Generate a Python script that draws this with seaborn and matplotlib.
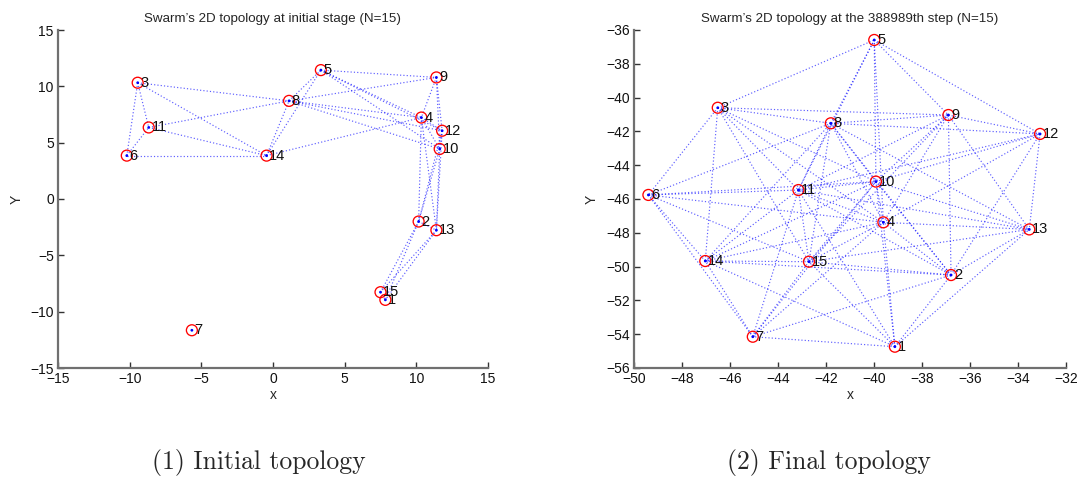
import matplotlib
matplotlib.use("Agg")
import matplotlib.pyplot as plt
import seaborn as sns
import pandas as pd

# Node ids (1..15) and coordinates of the swarm at the two stages
node_ids = list(range(1, 16))

init_x = [7.84, 10.16, -9.44, 10.35, 3.34, -10.2, -5.66, 1.12, 11.4, 11.63, -8.67, 11.8, 11.4, -0.45, 7.5]
init_y = [-8.95, -2.0, 10.32, 7.23, 11.44, 3.85, -11.65, 8.71, 10.79, 4.44, 6.35, 6.06, -2.77, 3.85, -8.27]

final_x = [-39.13, -36.79, -46.51, -39.61, -39.99, -49.4, -45.05, -41.8, -36.9, -39.92, -43.15, -33.08, -33.53, -47.03, -42.71]
final_y = [-54.74, -50.5, -40.6, -47.38, -36.59, -45.76, -54.15, -41.52, -41.03, -44.97, -45.47, -42.15, -47.8, -49.67, -49.71]

# Communication links (pairs of node ids)
init_edges = [
    (3, 11), (3, 6), (3, 8), (3, 14), (6, 11), (6, 14), (11, 14), (11, 8),
    (14, 8), (14, 5), (14, 4), (8, 5), (8, 9), (8, 4), (8, 12), (8, 10),
    (5, 9), (5, 4), (5, 12), (5, 10), (9, 4), (9, 12), (9, 10), (4, 12),
    (4, 10), (12, 10), (4, 2), (4, 13), (12, 2), (12, 13), (10, 2), (10, 13),
    (2, 13), (2, 15), (2, 1), (13, 15), (13, 1), (15, 1),
]

final_edges = [
    (1, 2), (1, 4), (1, 7), (1, 10), (1, 11), (1, 13), (1, 14), (1, 15),
    (2, 4), (2, 7), (2, 8), (2, 9), (2, 10), (2, 11), (2, 12), (2, 13), (2, 14), (2, 15),
    (3, 4), (3, 5), (3, 6), (3, 8), (3, 9), (3, 10), (3, 11), (3, 14), (3, 15),
    (4, 5), (4, 6), (4, 7), (4, 8), (4, 9), (4, 10), (4, 11), (4, 12), (4, 13), (4, 14), (4, 15),
    (5, 8), (5, 9), (5, 10), (5, 11), (5, 12),
    (6, 7), (6, 8), (6, 10), (6, 11), (6, 14), (6, 15),
    (7, 10), (7, 11), (7, 14), (7, 15),
    (8, 9), (8, 10), (8, 11), (8, 12), (8, 13), (8, 14), (8, 15),
    (9, 10), (9, 11), (9, 12), (9, 13), (9, 15),
    (10, 11), (10, 12), (10, 13), (10, 14), (10, 15),
    (11, 12), (11, 13), (11, 14), (11, 15),
    (12, 13), (13, 15), (14, 15),
]

init_title = "Swarm\u2019s 2D topology at initial stage (N=15)"
final_title = "Swarm\u2019s 2D topology at the 388989th step (N=15)"
init_caption = "(1) Initial topology"
final_caption = "(2) Final topology"

init_ticks_x = [-15, -10, -5, 0, 5, 10, 15]
init_ticks_y = [-15, -10, -5, 0, 5, 10, 15]
final_ticks_x = [-50, -48, -46, -44, -42, -40, -38, -36, -34, -32]
final_ticks_y = [-56, -54, -52, -50, -48, -46, -44, -42, -40, -38, -36]

sns.set_style("ticks")
plt.rcParams["font.family"] = ["Liberation Sans", "DejaVu Sans"]

fig = plt.figure(figsize=(10.8, 4.83), dpi=100)
ax1 = fig.add_axes([58 / 1080, 115 / 483, 430 / 1080, 338 / 483])
ax2 = fig.add_axes([634 / 1080, 115 / 483, 432 / 1080, 338 / 483])

spine_col = "#707070"


def draw_topology(ax, xs, ys, edges, title, xticks, yticks):
    df = pd.DataFrame({"id": node_ids, "x": xs, "y": ys}).set_index("id")
    for a, b in edges:
        ax.plot([df.loc[a, "x"], df.loc[b, "x"]], [df.loc[a, "y"], df.loc[b, "y"]],
                linestyle=(0, (1, 1.8)), color=(0.1, 0.1, 1.0), alpha=0.7,
                linewidth=0.85, zorder=1)
    pts = df.reset_index()
    sns.scatterplot(data=pts, x="x", y="y", ax=ax, marker="o", s=62,
                    facecolor="none", edgecolor="red", linewidth=0.95, zorder=3)
    sns.scatterplot(data=pts, x="x", y="y", ax=ax, marker="o", s=4,
                    color="blue", edgecolor="none", zorder=4)
    for nid in node_ids:
        ax.annotate(str(nid), (df.loc[nid, "x"], df.loc[nid, "y"]),
                    xytext=(2.0, 0), textcoords="offset points",
                    ha="left", va="center", fontsize=10.5, color="#111111", zorder=5)
    ax.set_xlim(xticks[0], xticks[-1])
    ax.set_ylim(yticks[0], yticks[-1])
    ax.set_xticks(xticks)
    ax.set_yticks(yticks)
    ax.set_xlabel("x", fontsize=10, labelpad=1)
    ax.set_ylabel("Y", fontsize=10, labelpad=5)
    ax.set_title(title, fontsize=9.6, pad=6)
    sns.despine(ax=ax)
    for side in ("left", "bottom"):
        ax.spines[side].set_color(spine_col)
        ax.spines[side].set_linewidth(1.6)
    ax.tick_params(direction="in", length=4, width=1.0, colors="#333333",
                   labelsize=10, labelcolor="#111111", pad=3)
    ax.set_facecolor("white")


draw_topology(ax1, init_x, init_y, init_edges, init_title, init_ticks_x, init_ticks_y)
draw_topology(ax2, final_x, final_y, final_edges, final_title, final_ticks_x, final_ticks_y)

fig.text(259 / 1080, 21 / 483, init_caption, ha="center", va="center",
         fontsize=18.5, family="cmr10")
fig.text(829 / 1080, 21 / 483, final_caption, ha="center", va="center",
         fontsize=18.5, family="cmr10")

fig.savefig("out.png", dpi=100, facecolor="white")
